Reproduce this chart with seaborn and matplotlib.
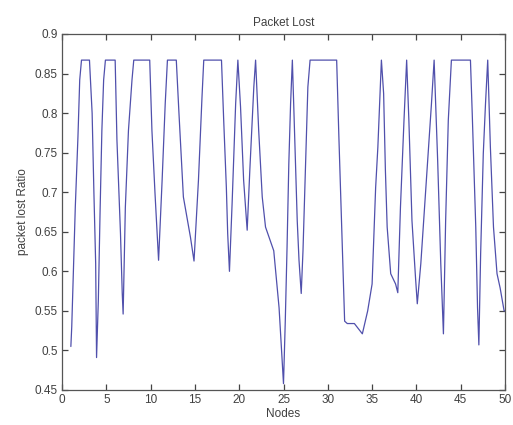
import matplotlib
matplotlib.use('Agg')
import matplotlib.pyplot as plt
import numpy as np
import pandas as pd
import seaborn as sns

# vertices of the packet-loss trace
nodes = [1.0, 1.1, 1.3, 1.5, 1.8, 2.0, 2.2, 3.1,
         3.4, 3.6, 3.8, 3.9, 4.1, 4.3, 4.5, 4.7, 4.9, 6.0,
         6.2, 6.6, 6.8, 6.9, 7.15, 7.5, 7.9, 8.1, 9.9,
         10.15, 10.5, 10.7, 10.9, 11.3, 11.65, 11.9, 12.9,
         13.2, 13.7, 14.5, 14.9, 15.4, 15.8, 16.0, 18.0,
         18.25, 18.55, 18.7, 18.9, 19.2, 19.6, 19.85,
         20.15, 20.5, 20.9, 21.2, 21.65, 21.85,
         22.2, 22.6, 22.97, 23.5, 23.9, 24.5, 24.85, 25.0,
         25.2, 25.4, 25.6, 25.8, 26.0,
         26.35, 26.55, 26.75, 27.0, 27.2, 27.5, 27.75, 28.0, 31.0,
         31.25, 31.6, 31.9, 32.2, 33.0, 33.9,
         34.5, 35.0, 35.4, 35.65, 35.9, 36.05,
         36.3, 36.5, 36.7, 37.1, 37.65, 37.9,
         38.2, 38.6, 38.9, 39.15, 39.5, 39.9, 40.1,
         40.5, 41.2, 41.7, 42.0, 42.4, 42.75, 43.05,
         43.3, 43.6, 43.95, 46.1, 46.3, 46.7, 46.9, 47.05,
         47.25, 47.55, 47.8, 48.05, 48.35, 48.7, 49.1, 49.45, 49.9, 50.0]
loss_ratio = [0.505, 0.53, 0.605, 0.681, 0.770, 0.842, 0.867, 0.867,
              0.800, 0.700, 0.610, 0.491, 0.563, 0.677, 0.778, 0.842, 0.867, 0.867,
              0.766, 0.648, 0.572, 0.546, 0.681, 0.778, 0.842, 0.867, 0.867,
              0.778, 0.698, 0.656, 0.614, 0.715, 0.812, 0.867, 0.867,
              0.800, 0.694, 0.643, 0.613, 0.715, 0.820, 0.867, 0.867,
              0.791, 0.706, 0.648, 0.600, 0.686, 0.812, 0.867,
              0.808, 0.715, 0.652, 0.728, 0.833, 0.867,
              0.778, 0.694, 0.656, 0.639, 0.626, 0.554, 0.487, 0.458,
              0.537, 0.630, 0.736, 0.812, 0.867,
              0.740, 0.664, 0.614, 0.572, 0.626, 0.740, 0.833, 0.867, 0.867,
              0.770, 0.643, 0.537, 0.534, 0.534, 0.521,
              0.550, 0.584, 0.706, 0.757, 0.825, 0.867,
              0.825, 0.728, 0.656, 0.597, 0.584, 0.573,
              0.681, 0.791, 0.867, 0.791, 0.664, 0.592, 0.559,
              0.610, 0.728, 0.812, 0.867, 0.740, 0.610, 0.521,
              0.664, 0.791, 0.867, 0.867, 0.800, 0.656, 0.554, 0.507,
              0.622, 0.749, 0.812, 0.867, 0.757, 0.656, 0.597, 0.579, 0.550, 0.550]

x_ticks = [0, 5, 10, 15, 20, 25, 30, 35, 40, 45, 50]
y_ticks = [0.45, 0.5, 0.55, 0.6, 0.65, 0.7, 0.75, 0.8, 0.85, 0.9]
y_labels = ['0.45', '0.5', '0.55', '0.6', '0.65', '0.7', '0.75', '0.8', '0.85', '0.9']

df = pd.DataFrame({'Nodes': nodes, 'ratio': loss_ratio})

sns.set_style('ticks')
plt.rcParams['font.family'] = ['Liberation Sans', 'DejaVu Sans']
text_col = '#404040'

fig = plt.figure(figsize=(5.13, 4.25), dpi=100)
ax = fig.add_axes([62 / 513, 35 / 425, 443 / 513, 356 / 425])

sns.lineplot(data=df, x='Nodes', y='ratio', sort=False, estimator=None,
             color='#5050ac', linewidth=0.9, ax=ax)

ax.set_xlim(0, 50)
ax.set_ylim(0.45, 0.9)
ax.set_xticks(x_ticks)
ax.set_yticks(y_ticks)
ax.set_yticklabels(y_labels)
ax.tick_params(direction='in', bottom=True, left=True, top=True, right=True,
               length=4, width=0.9, labelsize=8.5, colors='#444444',
               labelcolor=text_col, pad=3)
for s in ax.spines.values():
    s.set_visible(True)
    s.set_color('#555555')
    s.set_linewidth(0.9)

ax.set_title('Packet Lost', fontsize=8.5, color=text_col, pad=6)
ax.set_xlabel('Nodes', fontsize=8.5, color=text_col, labelpad=1)
ax.set_ylabel('packet lost Ratio', fontsize=8.5, color=text_col, labelpad=4)

plt.savefig('out.png', dpi=100, facecolor='white')
plt.close()
